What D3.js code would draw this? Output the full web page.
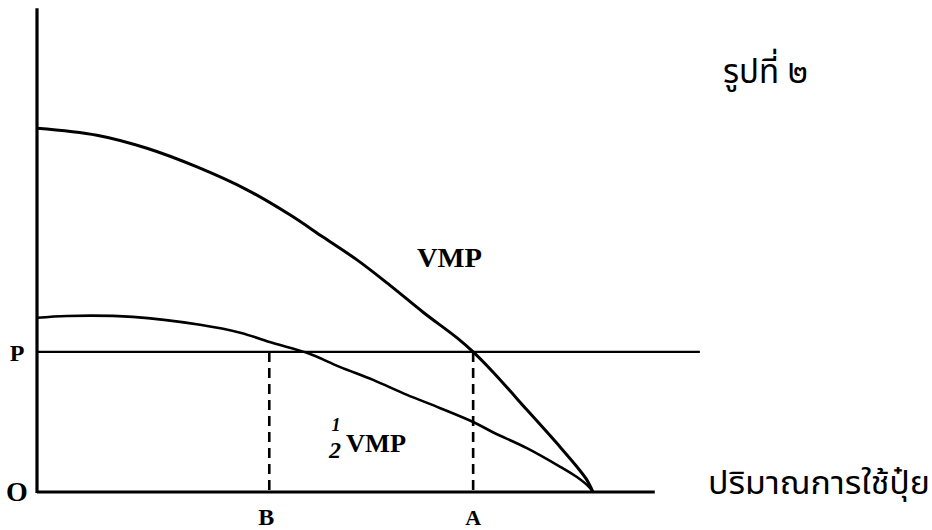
<!DOCTYPE html>
<html>
<head>
<meta charset="utf-8">
<script src="https://cdn.jsdelivr.net/npm/d3@7"></script>
<style>
    html, body { margin: 0; padding: 0; background: #fff; }
    svg { display: block; }
    .lbl { font-family: "Liberation Serif", "DejaVu Serif", serif; font-weight: bold; fill: #000; }
    .thai { font-family: "Noto Sans Thai", "Loma", "Garuda", "Noto Sans", sans-serif; fill: #000; }
</style>
</head>
<body>
<svg id="chart"></svg>
<script>
// --- Data ---
const vmpQty = [0, 0.97, 1.78, 2.59, 3.40, 4.10, 4.63, 5.18, 5.71, 6.25, 6.80, 7.06, 7.38, 7.93, 8.47, 8.74, 8.90, 9.0];
const vmpVal = [7.79, 7.64, 7.36, 6.96, 6.47, 5.93, 5.46, 4.97, 4.43, 3.85, 3.30, 3.0, 2.57, 1.76, 0.96, 0.54, 0.26, 0];

const halfQty = [0, 0.49, 1.55, 2.64, 3.29, 3.82, 4.37, 4.90, 5.44, 5.99, 6.52, 7.06, 7.38, 7.93, 8.47, 8.74, 8.95, 9.0];
const halfVal = [3.73, 3.77, 3.75, 3.58, 3.41, 3.19, 2.98, 2.68, 2.40, 2.08, 1.80, 1.50, 1.28, 0.94, 0.54, 0.32, 0.09, 0];

const price = 3.0;
const priceLineEnd = 10.73;
const qtyB = 3.76;
const qtyA = 7.06;
const xAxisMax = 10.0;
const yAxisMax = 10.36;

const title = 'รูปที่ ๒';
const xTitle = 'ปริมาณการใช้ปุ๋ย';

// --- Setup ---
const width = 932, height = 530;
const svg = d3.select('#chart').attr('width', width).attr('height', height);

const x = d3.scaleLinear().domain([0, 9]).range([37, 593]);
const y = d3.scaleLinear().domain([0, 10]).range([492, 25]);

const line = d3.line()
    .x(d => x(d[0]))
    .y(d => y(d[1]))
    .curve(d3.curveCatmullRom.alpha(0.5));

// Axes (plain L-shaped lines, no ticks)
svg.append('line')
    .attr('x1', x(0)).attr('x2', x(0))
    .attr('y1', y(0) + 1).attr('y2', y(yAxisMax))
    .attr('stroke', '#000').attr('stroke-width', 3.2);

svg.append('line')
    .attr('x1', x(0)).attr('x2', x(xAxisMax))
    .attr('y1', y(0)).attr('y2', y(0))
    .attr('stroke', '#000').attr('stroke-width', 3);

// Price line P
svg.append('line')
    .attr('x1', x(0)).attr('x2', x(priceLineEnd))
    .attr('y1', y(price)).attr('y2', y(price))
    .attr('stroke', '#000').attr('stroke-width', 2.2);

// Dashed drop lines at B and A
[qtyB, qtyA].forEach(q => {
    svg.append('line')
        .attr('x1', x(q)).attr('x2', x(q))
        .attr('y1', y(price)).attr('y2', y(0))
        .attr('stroke', '#000').attr('stroke-width', 2.6)
        .attr('stroke-dasharray', '10,6');
});

// Curves
svg.append('path')
    .datum(d3.zip(vmpQty, vmpVal))
    .attr('d', line)
    .attr('fill', 'none').attr('stroke', '#000').attr('stroke-width', 3);

svg.append('path')
    .datum(d3.zip(halfQty, halfVal))
    .attr('d', line)
    .attr('fill', 'none').attr('stroke', '#000').attr('stroke-width', 2.6);

// --- Labels ---
svg.append('text').attr('class', 'lbl')
    .attr('x', 17).attr('y', 361).attr('text-anchor', 'middle')
    .style('font-size', '24px').text('P');

svg.append('text').attr('class', 'lbl')
    .attr('x', 17).attr('y', 501).attr('text-anchor', 'middle')
    .style('font-size', '28px').text('O');

svg.append('text').attr('class', 'lbl')
    .attr('x', x(qtyB) - 3).attr('y', 525).attr('text-anchor', 'middle')
    .style('font-size', '24px').text('B');

svg.append('text').attr('class', 'lbl')
    .attr('x', x(qtyA)).attr('y', 525).attr('text-anchor', 'middle')
    .style('font-size', '22px').text('A');

svg.append('text').attr('class', 'lbl')
    .attr('x', 417).attr('y', 267)
    .attr('textLength', 65).attr('lengthAdjust', 'spacingAndGlyphs')
    .style('font-size', '27px').text('VMP');

// 1/2 VMP: stacked "1" over "2"
svg.append('text').attr('class', 'lbl')
    .attr('x', 336).attr('y', 431).attr('text-anchor', 'middle')
    .style('font-size', '18px').style('font-style', 'italic').text('1');
svg.append('text').attr('class', 'lbl')
    .attr('x', 335).attr('y', 458).attr('text-anchor', 'middle')
    .style('font-size', '24px').style('font-style', 'italic').text('2');

svg.append('text').attr('class', 'lbl')
    .attr('x', 346).attr('y', 452)
    .attr('textLength', 60).attr('lengthAdjust', 'spacingAndGlyphs')
    .style('font-size', '26px').text('VMP');

// Thai titles
svg.append('text').attr('class', 'thai')
    .attr('x', 723).attr('y', 83)
    .attr('textLength', 85).attr('lengthAdjust', 'spacingAndGlyphs')
    .style('font-size', '34px').text(title);

svg.append('text').attr('class', 'thai')
    .attr('x', 708).attr('y', 494)
    .attr('textLength', 222).attr('lengthAdjust', 'spacingAndGlyphs')
    .style('font-size', '32px').text(xTitle);
</script>
</body>
</html>
